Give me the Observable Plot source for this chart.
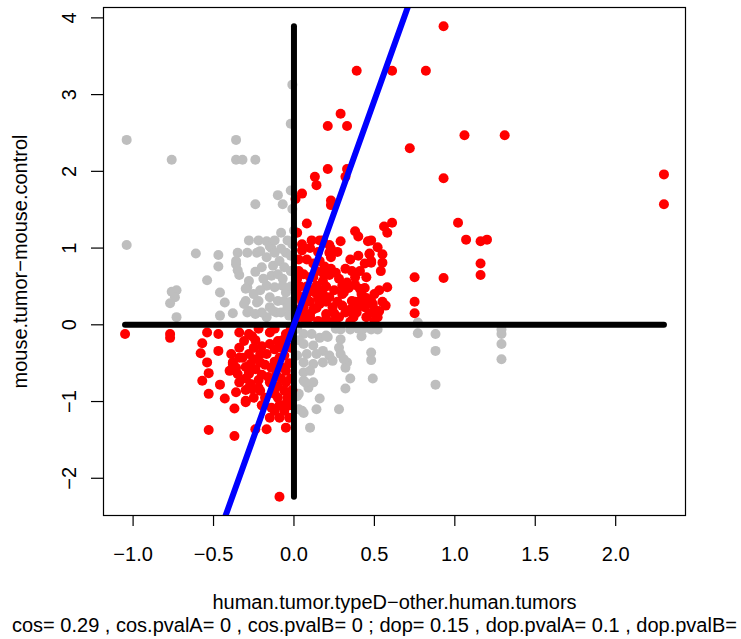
<!DOCTYPE html>
<html><head><meta charset="utf-8">
<script src="https://cdn.jsdelivr.net/npm/d3@7"></script>
<script src="https://cdn.jsdelivr.net/npm/@observablehq/plot@0.6"></script>
<style>
html,body{margin:0;padding:0;background:#fff;overflow:hidden}
</style></head><body><div id="chart"></div>
<script>
const grayPoints = [
[-1.04,2.41],[-1.04,1.04],[-0.76,2.15],[-0.36,2.41],[-0.36,2.15],[-0.32,2.15],[-0.24,2.15],[-0.24,1.57],[-0.01,3.13],[-0.02,2.62],[-0.10,1.69],[-0.07,1.57],[-0.02,1.75],[-0.01,1.51],[0.00,1.23],[-0.61,0.93],[-0.47,0.91],[-0.47,0.76],[-0.54,0.58],[-0.28,1.10],[-0.22,1.10],[-0.17,1.09],[-0.14,1.00],[-0.35,0.94],[-0.29,0.94],[-0.23,0.94],[-0.36,0.79],[-0.35,0.71],[-0.24,0.69],[-0.28,0.57],[-0.29,0.49],
[-0.76,0.43],[-0.73,0.45],[-0.77,0.28],[-0.74,0.36],[-0.73,0.10],
[-0.46,0.42],[-0.43,0.29],[-0.38,0.15],[-0.30,0.31],[-0.28,0.18],[-0.23,0.29],[-0.15,0.23],[-0.11,0.16],[-0.17,0.10],
[-0.21,0.96],[-0.15,1.02],[-0.36,0.83],[-0.34,0.65],[-0.30,0.47],[-0.31,0.27],[-0.29,0.16],[-0.22,0.31],[-0.46,0.12],
[-0.17,0.88],[-0.12,0.94],[-0.08,0.99],[-0.05,0.94],[-0.13,0.77],[-0.09,0.83],[-0.06,0.75],[-0.14,0.64],[-0.10,0.66],[-0.07,0.60],[-0.17,0.51],[-0.12,0.49],[-0.07,0.51],[-0.05,0.42],[-0.15,0.36],[-0.10,0.31],[-0.06,0.31],[-0.13,0.18],[-0.08,0.16],[-0.04,0.23],[-0.20,0.16],[-0.24,0.14],
[-0.02,0.90],[-0.02,0.70],[-0.02,0.50],[-0.02,0.30],[-0.03,0.12],[-0.01,1.05],[-0.04,1.10],[-0.20,0.75],[-0.19,0.60],[-0.25,0.40],[-0.21,0.45],[-0.12,1.10],[-0.08,1.20],
[0.21,-0.16],[0.29,-0.06],[0.35,-0.06],[0.48,-0.06],[0.52,-0.06],[0.77,-0.11],[0.48,-0.36],[0.48,-0.46],[0.28,-0.30],[0.29,-0.38],[0.33,-0.49],[0.32,-0.56],[0.35,-0.70],[0.32,-0.83],[0.49,-0.70],[0.16,-0.96],[0.14,-1.10],[0.06,-1.15],[0.10,-1.34],[0.28,-1.10],
[0.06,-0.12],[0.11,-0.12],[0.16,-0.17],[0.06,-0.25],[0.12,-0.27],[0.18,-0.34],[0.22,-0.40],[0.08,-0.38],[0.14,-0.38],[0.06,-0.49],[0.12,-0.51],[0.18,-0.49],[0.24,-0.47],[0.06,-0.62],[0.10,-0.60],[0.06,-0.73],[0.12,-0.75],[0.09,-0.82],
[0.77,0.03],[0.88,-0.12],[0.88,-0.34],[0.88,-0.78],[1.29,-0.06],[1.29,-0.12],[1.29,-0.25],[1.29,-0.45],
[0.07,-0.75],[0.05,-1.12],[0.02,-0.05],[0.03,-0.20],[0.02,-0.40],[0.03,-0.90],[0.40,-0.05],[0.42,-0.15],
[0.26,-0.05],[0.43,-0.05],[0.29,-0.19],[0.20,-0.14],[0.31,-0.45],[0.02,-0.93],[0.03,-1.10]
];
const redPoints = [
[0.93,3.89],[0.61,3.31],[0.82,3.31],[1.06,2.47],[1.31,2.47],[0.72,2.30],[0.93,1.91],[2.30,1.96],[2.30,1.57],[1.02,1.33],[1.07,1.11],[1.16,1.09],[1.20,1.11],[1.16,0.80],[1.16,0.65],[0.93,0.61],[0.75,0.62],[0.75,0.30],[0.75,0.15],
[0.56,1.28],[0.61,1.33],[0.58,1.20],[0.52,1.01],[0.55,0.92],[0.55,0.81],[0.54,0.70],[0.48,1.10],[0.47,0.93],[0.48,0.81],[0.53,0.45],[0.55,0.30],[0.53,0.18],[0.52,0.10],[0.49,0.27],
[0.39,3.31],[0.29,2.75],[0.21,2.59],[0.33,2.59],[0.21,2.03],[0.33,2.03],[0.32,1.93],[0.13,1.93],[0.14,1.82],[0.05,1.71],[0.01,1.64],[0.23,1.62],[0.23,1.56],[0.08,1.32],[0.38,1.22],[0.40,1.15],[0.11,1.10],[0.16,1.10],[0.22,1.04],[0.23,0.99],[0.29,1.09],[0.46,1.09],[0.05,0.97],[0.47,0.92],
[0.18,1.10],[0.22,0.94],[0.23,0.88],[0.19,0.76],[0.23,0.73],[0.32,0.73],[0.16,0.83],[0.48,0.83],[0.41,0.70],[0.38,0.62],[0.45,0.62],
[0.41,0.47],[0.30,0.51],[0.31,0.42],[0.18,0.57],[0.14,0.51],[0.10,0.62],[0.06,0.66],[0.03,0.70],
[0.13,0.42],[0.22,0.36],[0.16,0.27],[0.24,0.23],[0.36,0.31],[0.41,0.31],[0.48,0.31],[0.44,0.23],[0.52,0.16],[0.39,0.16],[0.32,0.16],[0.20,0.14],[0.10,0.14],[0.06,0.23],[0.04,0.36],
[0.37,0.10],[0.28,0.10],[0.20,0.08],[0.10,0.10],[0.45,0.10],[0.50,0.05],
[0.02,0.60],[0.04,0.50],[0.02,0.40],[0.05,0.30],[0.08,0.40],[0.10,0.30],[0.12,0.20],[0.02,0.20],[0.03,0.10],[0.07,0.05],[0.15,0.05],[0.25,0.05],[0.35,0.04],[0.08,0.50],[0.11,0.45],[0.17,0.45],[0.20,0.50],[0.25,0.45],[0.27,0.30],[0.30,0.25],[0.35,0.20],[0.40,0.25],[0.45,0.35],[0.42,0.40],[0.50,0.40],[0.28,0.60],[0.33,0.55],[0.26,0.68],[0.22,0.65],[0.14,0.70],[0.12,0.80],[0.08,0.85],[0.03,0.85],[0.05,1.05],[0.02,1.20],[0.10,1.00],[0.15,0.95],[0.27,0.95],[0.35,0.85],[0.40,0.90],[0.44,0.80],[0.36,0.70],[0.20,0.30],[0.15,0.35],[0.06,0.15],
[0.58,0.49],[0.57,0.25],
[0.30,0.40],[0.38,0.30],[0.46,0.28],[0.25,0.15],[0.14,0.22],[0.07,0.30],[0.34,0.48],[0.38,0.52],[0.18,0.40],[0.44,0.48],[0.50,0.20],[0.47,0.15],[0.12,0.62],[0.18,0.68],
[-1.05,-0.12],[-0.77,-0.12],[-0.77,-0.17],[-0.54,-0.10],[-0.47,-0.12],[-0.57,-0.24],[-0.58,-0.37],[-0.54,-0.49],[-0.53,-0.63],[-0.57,-0.73],[-0.53,-0.90],[-0.47,-0.34],[-0.46,-0.78],[-0.43,-0.96],[-0.37,-1.09],[-0.53,-1.37],[-0.37,-1.45],[-0.24,-1.36],[-0.17,-1.36],[-0.05,-1.34],[-0.09,-2.24],
[-0.34,-0.10],[-0.28,-0.12],[-0.31,-0.21],[-0.34,-0.30],[-0.39,-0.38],[-0.38,-0.49],[-0.40,-0.60],[-0.32,-0.43],[-0.36,-0.56],[-0.28,-0.38],[-0.27,-0.51],[-0.21,-0.38],[-0.28,-0.62],[-0.21,-0.49],[-0.17,-0.38],[-0.14,-0.56],[-0.15,-0.25],[-0.10,-0.21],[-0.15,-0.10],[-0.05,-0.12],[-0.09,-0.43],[-0.05,-0.60],
[-0.34,-0.75],[-0.36,-0.88],[-0.27,-0.77],[-0.26,-0.84],[-0.30,-1.01],[-0.21,-0.86],[-0.15,-0.75],[-0.10,-0.80],[-0.06,-0.86],[-0.05,-0.75],[-0.14,-1.08],[-0.12,-1.12],[-0.06,-1.12],[-0.05,-1.03],[-0.15,-1.21],[-0.09,-1.21],[-0.03,-1.21],
[-0.38,-0.51],[-0.34,-0.43],[-0.35,-0.64],[-0.28,-0.64],[-0.28,-0.82],[-0.22,-0.82],[-0.25,-0.95],[-0.30,-0.99],
[-0.02,-0.30],[-0.03,-0.50],[-0.02,-0.70],[-0.04,-0.95],[-0.02,-0.05],[-0.08,-0.30],[-0.11,-0.65],[-0.20,-0.65],[-0.24,-0.20],[-0.22,-0.05],[-0.10,-0.95],[-0.18,-0.95],[-0.03,-1.05],[-0.01,-0.85],[-0.06,-0.40],
[-0.25,-0.30],[-0.20,-0.28],[-0.12,-0.32],[-0.30,-0.55],[-0.24,-0.58],[-0.18,-0.52],[-0.12,-0.48],[-0.08,-0.55],[-0.25,-0.45],[-0.16,-0.68],[-0.08,-0.70],[-0.30,-0.70],[-0.22,-0.72],[-0.12,-0.90],[-0.20,-1.05],[-0.09,-1.05],[-0.12,-0.05],[-0.07,-0.20],[-0.30,-0.85],[-0.26,-0.15]
];
const xTicks = [-1, -0.5, 0, 0.5, 1, 1.5, 2];
const yTicks = [-2, -1, 0, 1, 2, 3, 4];
const fitSlope = 5.85;
const fitIntercept = 0;
const xLabel = "human.tumor.typeD\u2212other.human.tumors";
const yLabel = "mouse.tumor\u2212mouse.control";
const caption = "cos= 0.29 , cos.pvalA= 0 , cos.pvalB= 0 ; dop= 0.15 , dop.pvalA= 0.1 , dop.pvalB= 0.1";

const all = grayPoints.concat(redPoints);
const xExt = d3.extent(all, d => d[0]);
const yExt = d3.extent(all, d => d[1]);
const pad = e => { const p = (e[1] - e[0]) * 0.04; return [e[0] - p, e[1] + p]; };
const xDom = pad(xExt), yDom = pad(yExt);
const fitLine = xDom.map(x => ({x, y: fitIntercept + fitSlope * x}));
const hLine = [{x: xExt[0], y: 0}, {x: xExt[1], y: 0}];
const vLine = [{x: 0, y: yExt[0]}, {x: 0, y: yExt[1]}];

const chart = Plot.plot({
  width: 741, height: 639,
  marginLeft: 103, marginRight: 56, marginTop: 7, marginBottom: 124,
  style: {fontFamily: "'Liberation Sans', Arial, Helvetica, sans-serif", fontSize: "20px", color: "black", background: "white", overflow: "hidden"},
  x: {domain: xDom},
  y: {domain: yDom},
  marks: [
    Plot.dot(grayPoints, {x: d => d[0], y: d => d[1], r: 5, fill: "#BEBEBE", stroke: "none"}),
    Plot.dot(redPoints, {x: d => d[0], y: d => d[1], r: 5, fill: "#FF0000", stroke: "none"}),
    Plot.line(hLine, {x: "x", y: "y", stroke: "black", strokeWidth: 6, strokeLinecap: "round"}),
    Plot.line(vLine, {x: "x", y: "y", stroke: "black", strokeWidth: 6, strokeLinecap: "round"}),
    Plot.line(fitLine, {x: "x", y: "y", stroke: "#0000FF", strokeWidth: 6, clip: true}),
    Plot.frame({stroke: "black", strokeWidth: 1.2}),
    Plot.axisX({ticks: xTicks, tickSize: 11, tickPadding: 20, tickFormat: d3.format(".1f"), label: null, strokeWidth: 1.2}),
    Plot.axisY({ticks: yTicks, tickSize: 12, tickPadding: 16, tickRotate: -90, tickFormat: d3.format("d"), label: null, strokeWidth: 1.2}),
    Plot.text([xLabel], {frameAnchor: "bottom", dy: 93, lineAnchor: "bottom", fill: "black"}),
    Plot.text([caption], {frameAnchor: "bottom-left", dx: -91.5, dy: 116, textAnchor: "start", lineAnchor: "bottom", fill: "black"}),
    Plot.text([yLabel], {frameAnchor: "left", dx: -77, rotate: -90, textAnchor: "middle", lineAnchor: "bottom", fill: "black"})
  ]
});
document.getElementById("chart").appendChild(chart);
</script></body></html>
